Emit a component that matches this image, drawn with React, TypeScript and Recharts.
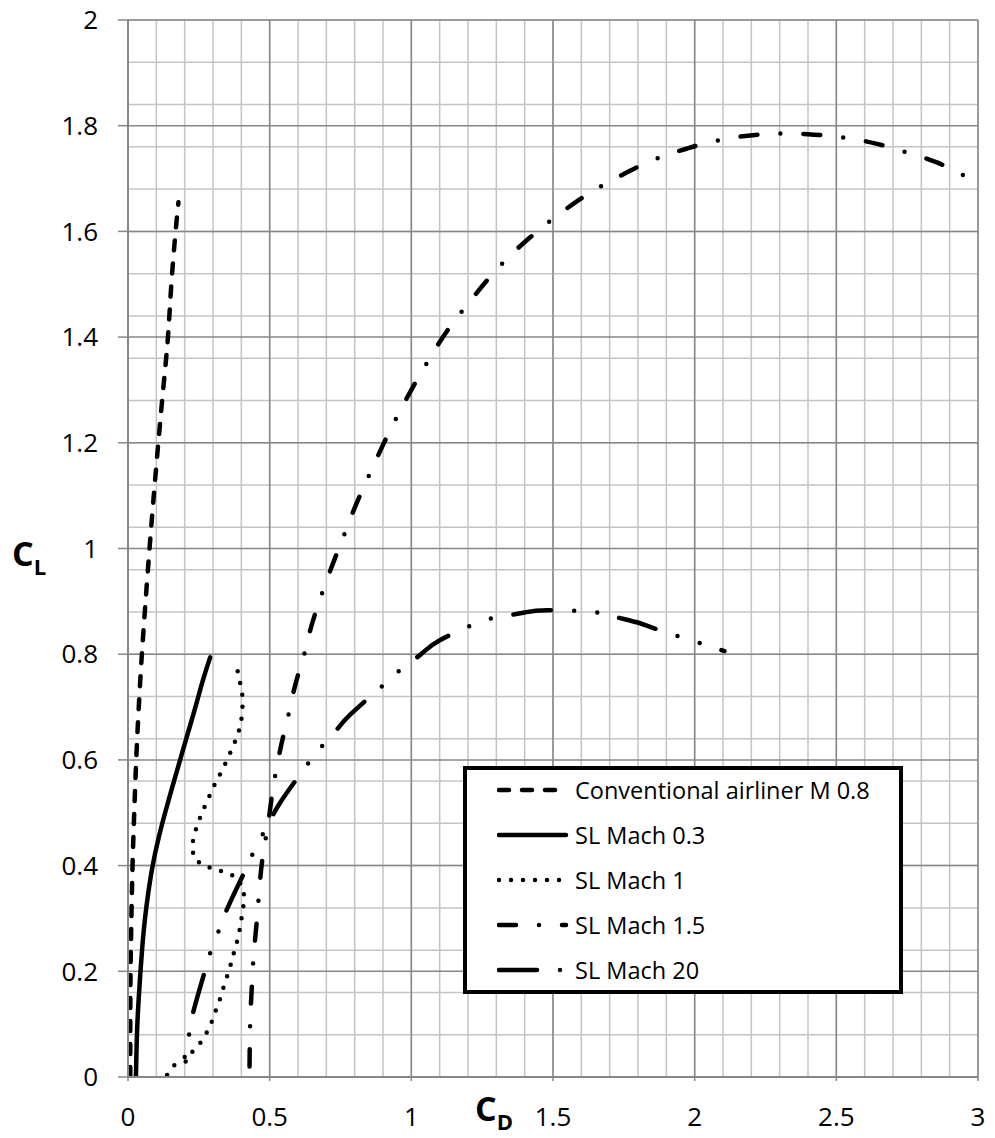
import { LineChart, Line, XAxis, YAxis, CartesianGrid, Legend } from "recharts";

// axis ticks (major = labelled, minor = light grid only)
const cdTicks = [0, 0.5, 1, 1.5, 2, 2.5, 3];
const clTicks = [0, 0.2, 0.4, 0.6, 0.8, 1, 1.2, 1.4, 1.6, 1.8, 2];
const cdMinorTicks = Array.from({ length: 31 }, (_, i) => i / 10);
const clMinorTicks = Array.from({ length: 51 }, (_, i) => i * 0.04);

// Conventional airliner M 0.8
const airlinerCd = [0.008, 0.008, 0.009, 0.012, 0.016, 0.022, 0.029, 0.038, 0.049, 0.062, 0.076, 0.091, 0.107, 0.124, 0.141, 0.153, 0.168, 0.178];
const airlinerCl = [0, 0.1, 0.2, 0.3, 0.4, 0.5, 0.6, 0.7, 0.8, 0.9, 1.0, 1.1, 1.2, 1.3, 1.4, 1.5, 1.6, 1.655];

// SL Mach 0.3
const mach03Cd = [0.028, 0.03, 0.033, 0.038, 0.044, 0.051, 0.06, 0.072, 0.087, 0.107, 0.131, 0.157, 0.184, 0.211, 0.238, 0.264, 0.29];
const mach03Cl = [0, 0.05, 0.1, 0.15, 0.2, 0.25, 0.3, 0.35, 0.4, 0.45, 0.5, 0.55, 0.6, 0.65, 0.7, 0.75, 0.794];

// SL Mach 1
const mach1Cd = [0.138, 0.163, 0.206, 0.232, 0.261, 0.282, 0.299, 0.313, 0.328, 0.34, 0.354, 0.366, 0.377, 0.389, 0.397, 0.403, 0.41, 0.408, 0.385, 0.349, 0.309, 0.268, 0.233, 0.226, 0.233, 0.249, 0.264, 0.282, 0.3, 0.32, 0.34, 0.358, 0.375, 0.39, 0.4, 0.404, 0.404, 0.396, 0.387];
const mach1Cl = [0.004, 0.022, 0.03, 0.052, 0.068, 0.088, 0.109, 0.131, 0.153, 0.175, 0.197, 0.219, 0.242, 0.264, 0.287, 0.309, 0.333, 0.355, 0.378, 0.386, 0.393, 0.4, 0.413, 0.436, 0.458, 0.483, 0.504, 0.525, 0.547, 0.568, 0.589, 0.61, 0.631, 0.652, 0.675, 0.698, 0.721, 0.745, 0.768];

// SL Mach 1.5
const mach15Cd = [0.429, 0.431, 0.436, 0.443, 0.452, 0.463, 0.475, 0.494, 0.51, 0.53, 0.547, 0.564, 0.582, 0.603, 0.622, 0.643, 0.675, 0.718, 0.76, 0.804, 0.852, 0.9, 0.952, 1.006, 1.066, 1.128, 1.2, 1.273, 1.354, 1.44, 1.53, 1.627, 1.72, 1.835, 1.944, 2.055, 2.17, 2.286, 2.4, 2.518, 2.633, 2.746, 2.857, 2.97];
const mach15Cl = [0.02, 0.1, 0.16, 0.227, 0.28, 0.351, 0.415, 0.477, 0.54, 0.6, 0.643, 0.68, 0.724, 0.766, 0.8, 0.845, 0.9, 0.964, 1.022, 1.082, 1.14, 1.196, 1.252, 1.306, 1.361, 1.413, 1.463, 1.511, 1.557, 1.598, 1.636, 1.672, 1.7, 1.731, 1.752, 1.769, 1.78, 1.785, 1.784, 1.778, 1.767, 1.75, 1.73, 1.7];

// SL Mach 20
const mach20Cd = [0.2, 0.214, 0.229, 0.27, 0.293, 0.324, 0.354, 0.419, 0.454, 0.494, 0.538, 0.626, 0.675, 0.732, 0.785, 0.902, 0.965, 1.034, 1.099, 1.238, 1.316, 1.4, 1.48, 1.636, 1.717, 1.799, 1.878, 2.025, 2.105];
const mach20Cl = [0.038, 0.074, 0.12, 0.198, 0.239, 0.282, 0.323, 0.397, 0.438, 0.477, 0.52, 0.586, 0.62, 0.654, 0.686, 0.742, 0.772, 0.8, 0.826, 0.86, 0.871, 0.879, 0.883, 0.88, 0.871, 0.86, 0.845, 0.82, 0.806];

const toPoints = (cd: number[], cl: number[]) => cd.map((x, i) => ({ x, y: cl[i] }));

const series = [
  { name: "Conventional airliner M 0.8", data: toPoints(airlinerCd, airlinerCl), dash: "10 13", offset: 0, curve: "natural" },
  { name: "SL Mach 0.3", data: toPoints(mach03Cd, mach03Cl), dash: undefined, offset: 0, curve: "natural" },
  { name: "SL Mach 1", data: toPoints(mach1Cd, mach1Cl), dash: "0 12", offset: 0, curve: "linear" },
  { name: "SL Mach 1.5", data: toPoints(mach15Cd, mach15Cl), dash: "17 23 0 23", offset: 0, curve: "natural" },
  { name: "SL Mach 20", data: toPoints(mach20Cd, mach20Cl), dash: "38 23 0 23 0 23", offset: 61, curve: "natural" },
];

const FONT = "'Open Sans', 'Noto Sans', sans-serif";
const MINOR = "#c4c4c4";
const MAJOR = "#878787";

const LegendBox = () => (
  <div
    style={{
      position: "relative",
      width: 440,
      height: 228,
      boxSizing: "border-box",
      border: "4px solid #000",
      background: "#fff",
      fontFamily: FONT,
      fontSize: 23.5,
    }}
  >
    {series.map((s, i) => (
      <div key={s.name} style={{ position: "absolute", left: 30, top: 20 + i * 45 - 15, height: 30, display: "flex", alignItems: "center" }}>
        <svg width={74} height={30} style={{ display: "block" }}>
          <line x1={2} x2={69} y1={15} y2={15} stroke="#000" strokeWidth={4.5} strokeLinecap="round" strokeDasharray={s.dash} />
        </svg>
        <span style={{ marginLeft: 4, lineHeight: "30px", whiteSpace: "nowrap", color: "#000" }}>{s.name}</span>
      </div>
    ))}
  </div>
);

const YTitle = (props: any) => {
  const { viewBox } = props;
  const cy = viewBox.y + viewBox.height / 2;
  return (
    <text x={12} y={cy + 17} fontFamily={FONT} fontWeight={700} fill="#000">
      <tspan fontSize={34}>C</tspan>
      <tspan fontSize={22} dy={9}>L</tspan>
    </text>
  );
};

const XTitle = (props: any) => {
  const { viewBox } = props;
  const cx = viewBox.x + viewBox.width / 2;
  return (
    <text x={cx - 78} y={1121} fontFamily={FONT} fontWeight={700} fill="#000">
      <tspan fontSize={34}>C</tspan>
      <tspan fontSize={22} dy={9}>D</tspan>
    </text>
  );
};

export default function App() {
  return (
    <div style={{ position: "absolute", left: 0, top: 0, background: "#fff" }}>
      <LineChart width={995} height={1138} margin={{ top: 20, right: 17, bottom: 21, left: 0 }}>
        <CartesianGrid verticalValues={cdMinorTicks} horizontalValues={clMinorTicks} stroke={MINOR} strokeWidth={1.5} />
        <CartesianGrid verticalValues={cdTicks} horizontalValues={clTicks} stroke={MAJOR} strokeWidth={1.5} />
        <XAxis
          dataKey="x"
          type="number"
          domain={[0, 3]}
          ticks={cdTicks}
          allowDataOverflow
          height={40}
          tickSize={4}
          tickMargin={27}
          axisLine={{ stroke: MAJOR, strokeWidth: 2 }}
          tickLine={{ stroke: MAJOR, strokeWidth: 1.5 }}
          tick={{ fill: "#000", fontSize: 26, fontFamily: FONT }}
          label={{ content: <XTitle /> }}
        />
        <YAxis
          dataKey="y"
          type="number"
          domain={[0, 2]}
          ticks={clTicks}
          allowDataOverflow
          width={128}
          tickSize={10}
          tickMargin={20}
          axisLine={{ stroke: MAJOR, strokeWidth: 2 }}
          tickLine={{ stroke: MAJOR, strokeWidth: 1.5 }}
          tick={{ fill: "#000", fontSize: 26, fontFamily: FONT }}
          label={{ content: <YTitle /> }}
        />
        {series.map((s) => (
          <Line
            key={s.name}
            data={s.data}
            dataKey="y"
            name={s.name}
            type={s.curve as any}
            stroke="#000"
            strokeWidth={4.5}
            strokeLinecap="round"
            strokeDasharray={s.dash}
            strokeDashoffset={s.offset}
            dot={false}
            activeDot={false}
            isAnimationActive={false}
          />
        ))}
        <Legend
          layout="vertical"
          align="center"
          verticalAlign="middle"
          content={() => <LegendBox />}
          wrapperStyle={{ position: "absolute", left: 463, top: 766, width: 440, height: 228 }}
        />
      </LineChart>
    </div>
  );
}
